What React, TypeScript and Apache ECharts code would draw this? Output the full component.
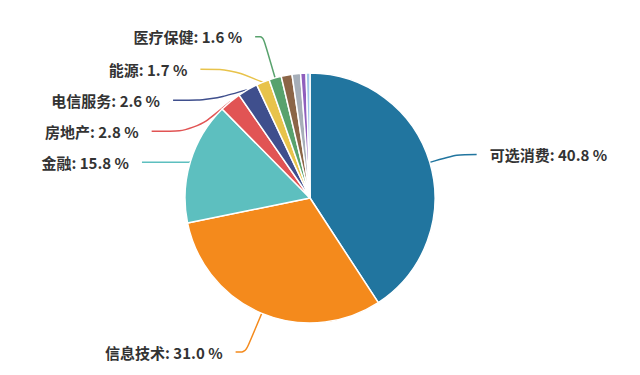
import React, { useEffect, useRef } from "react";
import * as echarts from "echarts";

const categories = ["可选消费", "信息技术", "金融", "房地产", "电信服务", "能源", "医疗保健", "工业", "原材料", "日常消费", "公用事业"];
const values = [40.8, 31.0, 15.8, 2.8, 2.6, 1.7, 1.6, 1.4, 1.1, 0.7, 0.5];
const colors = ["#21759f", "#f48a1c", "#5dbfbf", "#e15454", "#3f4f8d", "#e8c34b", "#58a26d", "#8b6547", "#a6aeb8", "#8f5fbd", "#9fc7e8"];
const labeledCount = 7;
// guide line lengths per slice [first segment, second segment]
const guideLengths = [[28, 20], [42, 10], [12, 47], [12, 45], [12, 37], [14, 30], [43, 8], [12, 20], [12, 20], [12, 20], [12, 20]];

export default function App() {
  const ref = useRef<HTMLDivElement>(null);
  useEffect(() => {
    if (!ref.current) return;
    const chart = echarts.init(ref.current, null, { renderer: "svg" });
    chart.setOption({
      animation: false,
      backgroundColor: "#ffffff",
      series: [
        {
          type: "pie",
          center: [310, 198],
          radius: 125,
          startAngle: 90,
          clockwise: true,
          avoidLabelOverlap: true,
          itemStyle: { borderColor: "#ffffff", borderWidth: 1.5 },
          label: {
            show: true,
            color: "#333333",
            fontSize: 15,
            fontWeight: "bold",
            lineHeight: 29,
            distanceToLabelLine: 13,
            fontFamily: "Noto Sans CJK SC, Noto Sans, sans-serif",
            formatter: (p: any) => `${p.name}: ${Number(p.value).toFixed(1)} %`,
          },
          labelLine: { show: true, smooth: true, lineStyle: { width: 1.5 } },
          data: categories.map((name, i) => ({
            name,
            value: values[i],
            itemStyle: { color: colors[i] },
            label: { show: i < labeledCount },
            labelLine: { show: i < labeledCount, length: guideLengths[i][0], length2: guideLengths[i][1] },
          })),
        },
      ],
    });
    return () => chart.dispose();
  }, []);
  return <div ref={ref} style={{ width: 640, height: 375, margin: -8 }} />;
}
